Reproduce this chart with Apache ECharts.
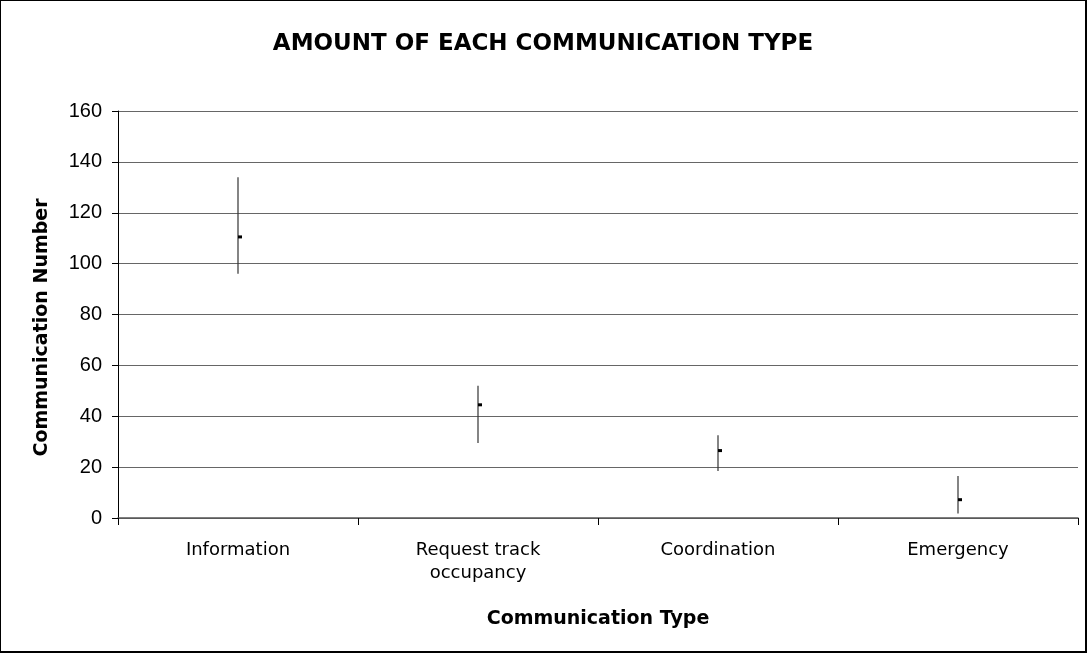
<!DOCTYPE html>
<html><head><meta charset="utf-8">
<script src="https://cdn.jsdelivr.net/npm/echarts@6/dist/echarts.min.js"></script>
<style>html,body{margin:0;padding:0;background:#fff}#c{width:1087px;height:653px;box-sizing:border-box;border:1px solid #000;border-right:2px solid #000;border-bottom:2px solid #000}</style>
</head><body><div id="c"></div>
<script>
const categories = ['Information', 'Request track\noccupancy', 'Coordination', 'Emergency'];
const highValues = [134, 52, 32.5, 16.5];
const lowValues = [96, 29.5, 18.5, 1.8];
const closeValues = [110.5, 44.5, 26.5, 7.2];
const yTicks = [0, 20, 40, 60, 80, 100, 120, 140, 160];

const data = categories.map((c, i) => [i, lowValues[i], highValues[i], closeValues[i]]);
const chart = echarts.init(document.getElementById('c'));
chart.setOption({
  animation: false,
  textStyle: {fontFamily: 'DejaVu Sans, sans-serif'},
  title: {text: 'AMOUNT OF EACH COMMUNICATION TYPE', left: 'center', top: 27,
    textStyle: {fontSize: 23, fontWeight: 'bold', color: '#000', fontFamily: 'DejaVu Sans'}},
  grid: {left: 117, right: 7, top: 110, bottom: 133},
  xAxis: {type: 'category', data: categories,
    name: 'Communication Type', nameLocation: 'middle', nameGap: 92,
    nameTextStyle: {fontSize: 19, fontWeight: 'bold', color: '#000', fontFamily: 'DejaVu Sans'},
    axisLine: {lineStyle: {color: '#555', width: 1.5}},
    axisTick: {show: true, length: 7, lineStyle: {color: '#000'}},
    axisLabel: {fontSize: 18, color: '#000', margin: 21, lineHeight: 23, fontFamily: 'DejaVu Sans'}},
  yAxis: {type: 'value', min: 0, max: 160, interval: 20,
    name: 'Communication Number', nameLocation: 'middle', nameGap: 66,
    nameTextStyle: {fontSize: 19, fontWeight: 'bold', color: '#000', fontFamily: 'DejaVu Sans',
      padding: [0, 26, 0, 0]},
    axisLine: {show: true, lineStyle: {color: '#000'}},
    axisTick: {show: true, length: 6, lineStyle: {color: '#000'}},
    axisLabel: {fontSize: 20, color: '#000', margin: 16, fontFamily: 'Liberation Sans, Arial',
      formatter: v => yTicks.includes(v) ? String(v) : ''},
    splitLine: {lineStyle: {color: '#666', width: 1}}},
  series: [{
    type: 'custom', data: data,
    encode: {x: 0, y: [1, 2, 3]},
    renderItem: (params, api) => {
      const x = api.value(0);
      const lo = api.coord([x, api.value(1)]);
      const hi = api.coord([x, api.value(2)]);
      const cl = api.coord([x, api.value(3)]);
      return {type: 'group', children: [
        {type: 'line', shape: {x1: lo[0], y1: lo[1], x2: hi[0], y2: hi[1]},
          style: {stroke: '#333', lineWidth: 1.2}},
        {type: 'rect', shape: {x: lo[0], y: cl[1] - 1.5, width: 4, height: 3},
          style: {fill: '#000'}}
      ]};
    }
  }]
});
</script></body></html>
